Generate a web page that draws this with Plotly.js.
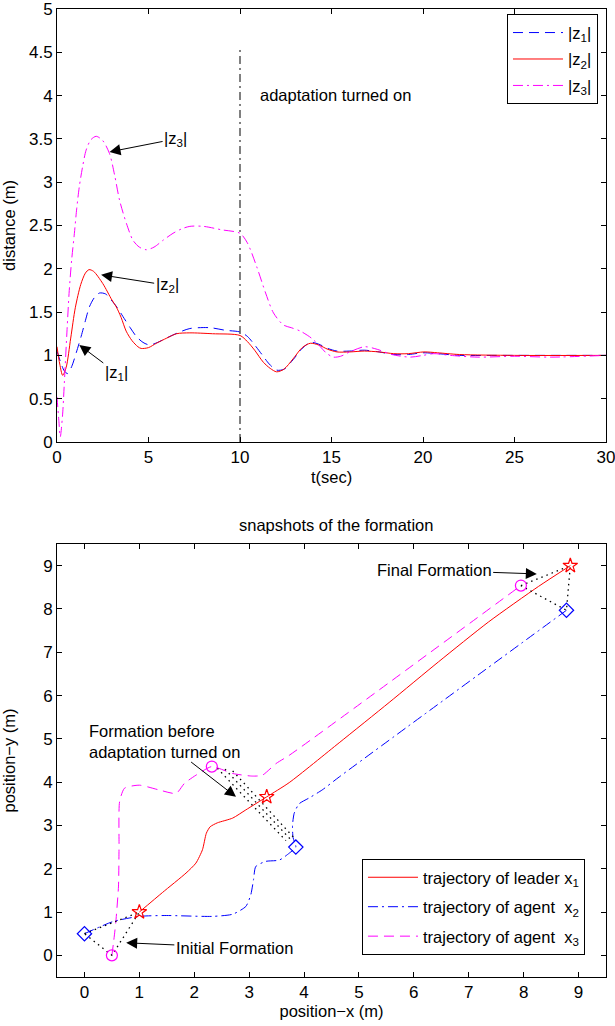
<!DOCTYPE html>
<html>
<head>
<meta charset="utf-8">
<script src="https://cdn.plot.ly/plotly-3.0.1.min.js"></script>
<style>
  html, body { margin: 0; padding: 0; background: #fff; }
  #chart { width: 615px; height: 1026px; }
</style>
</head>
<body>
<div id="chart"></div>
<script>
// ---- distance errors |z_i| over time ----
const z1T = [0, 0.2, 0.4, 0.58, 0.8, 1.05, 1.32, 1.55, 1.77, 2.05, 2.32, 2.65, 2.96, 3.3, 3.6, 4.0, 4.33, 4.7, 5.06, 5.5, 5.98, 6.6, 7.26, 8.35, 9.2, 10.0, 10.4, 10.73, 11.2, 11.6, 12.0, 12.4, 12.9, 13.4, 13.85, 14.3, 14.8, 15.3, 16.0, 16.8, 17.6, 18.4, 19.2, 20.0, 20.8, 22, 24, 27, 30];
const z1V = [1.05, 0.92, 0.82, 0.79, 0.87, 1.03, 1.22, 1.4, 1.56, 1.67, 1.72, 1.71, 1.64, 1.55, 1.45, 1.32, 1.22, 1.15, 1.12, 1.15, 1.20, 1.26, 1.31, 1.32, 1.29, 1.27, 1.22, 1.14, 1.01, 0.9, 0.83, 0.84, 0.95, 1.08, 1.15, 1.13, 1.08, 1.05, 1.05, 1.06, 1.04, 1.01, 1.01, 1.03, 1.02, 1.0, 1.0, 1.0, 1.0];

const z2T = [0, 0.15, 0.31, 0.5, 0.75, 1.0, 1.3, 1.55, 1.75, 2.0, 2.5, 3.0, 3.24, 3.5, 3.78, 4.1, 4.42, 4.6, 5.0, 5.43, 6.0, 6.53, 7.26, 8.5, 10.0, 10.4, 10.8, 11.28, 11.65, 12.0, 12.4, 12.9, 13.4, 13.84, 14.3, 14.8, 15.3, 16.0, 16.8, 17.6, 18.4, 19.2, 20.05, 20.8, 22, 25, 30];
const z2V = [1.1, 0.9, 0.77, 0.86, 1.2, 1.55, 1.82, 1.95, 1.99, 1.97, 1.83, 1.64, 1.56, 1.44, 1.28, 1.17, 1.10, 1.08, 1.09, 1.14, 1.2, 1.25, 1.26, 1.25, 1.23, 1.16, 1.06, 0.92, 0.85, 0.81, 0.84, 0.96, 1.09, 1.14, 1.12, 1.07, 1.04, 1.04, 1.05, 1.04, 1.02, 1.02, 1.04, 1.03, 1.01, 1.0, 1.0];

const z3T = [0, 0.1, 0.18, 0.3, 0.4, 0.55, 0.67, 0.8, 0.95, 1.08, 1.22, 1.4, 1.59, 1.85, 2.14, 2.5, 2.87, 3.15, 3.42, 3.8, 4.15, 4.5, 4.88, 5.3, 5.8, 6.34, 6.8, 7.26, 8.0, 9.0, 10.0, 10.4, 10.92, 11.4, 11.83, 12.38, 12.8, 13.3, 13.9, 14.39, 14.7, 15.1, 15.5, 16.0, 16.8, 17.5, 18.3, 19.3, 20.0, 20.6, 21.5, 23, 25, 27, 30];
const z3V = [0.52, 0.25, 0.06, 0.3, 0.68, 1.3, 1.75, 2.1, 2.41, 2.7, 2.95, 3.18, 3.37, 3.49, 3.53, 3.48, 3.33, 3.08, 2.79, 2.52, 2.33, 2.25, 2.22, 2.25, 2.33, 2.41, 2.46, 2.49, 2.49, 2.45, 2.41, 2.3, 2.02, 1.72, 1.49, 1.35, 1.32, 1.28, 1.2, 1.1, 1.03, 0.98, 0.99, 1.04, 1.1, 1.07, 1.01, 0.98, 1.0, 1.02, 1.0, 0.98, 0.99, 0.98, 1.0];

// moment the adaptation law is switched on
const adaptT = [10, 10];
const adaptY = [0, 4.55];

const zLabels = ['|z<sub>1</sub>|', '|z<sub>2</sub>|', '|z<sub>3</sub>|'];

// ---- planar trajectories ----
const leaderX = [1.0, 1.42, 1.85, 2.03, 2.15, 2.22, 2.29, 2.42, 2.70, 2.94, 3.32, 3.73, 4.64, 5.55, 6.45, 7.36, 8.27, 8.85];
const leaderY = [1.0, 1.45, 1.90, 2.13, 2.44, 2.82, 2.97, 3.06, 3.17, 3.36, 3.66, 3.99, 4.91, 5.84, 6.78, 7.70, 8.52, 9.0];

const agent2X = [0, 0.52, 1.0, 1.49, 2.33, 2.7, 2.94, 3.03, 3.08, 3.12, 3.3, 3.55, 3.73, 3.85, 3.80, 3.79, 3.82, 3.91, 4.1, 4.33, 4.64, 8.78];
const agent2Y = [0.5, 0.78, 0.9, 0.92, 0.9, 0.95, 1.13, 1.4, 1.75, 2.05, 2.17, 2.2, 2.36, 2.5, 2.72, 3.0, 3.28, 3.5, 3.64, 3.82, 4.12, 7.97];

const agent3X = [0.5, 0.53, 0.57, 0.62, 0.63, 0.64, 0.73, 1.0, 1.36, 1.67, 1.82, 2.03, 2.32, 2.7, 3.06, 3.24, 3.49, 3.73, 7.95];
const agent3Y = [0.0, 0.3, 0.75, 1.6, 2.5, 3.55, 3.86, 3.93, 3.82, 3.74, 3.97, 4.16, 4.36, 4.2, 4.14, 4.16, 4.43, 4.62, 8.54];

// agent positions at the three snapshot instants: initial, t = 10 s, final
const leaderSnapX = [1.0, 3.32, 8.85];
const leaderSnapY = [1.0, 3.66, 9.0];
const agent2SnapX = [0.0, 3.85, 8.78];
const agent2SnapY = [0.5, 2.5, 7.97];
const agent3SnapX = [0.5, 2.32, 7.95];
const agent3SnapY = [0.0, 4.36, 8.54];

// inter-agent links shown as dotted segments (null breaks the polyline)
const linkX = [0.0, 1.0, 0.5, 0.0, null,
               7.95, 8.85, 8.78, 7.95, null,
               2.42, 3.67, null, 2.56, 3.76, null, 2.70, 3.85];
const linkY = [0.5, 1.0, 0.0, 0.5, null,
               8.54, 9.0, 7.97, 8.54, null,
               4.32, 2.65, null, 4.30, 2.67, null, 4.26, 2.67];

const trajLabels = ['trajectory of leader x<sub>1</sub>',
                    'trajectory of agent  x<sub>2</sub>',
                    'trajectory of agent  x<sub>3</sub>'];

const BLUE = '#0000ff', RED = '#ff0000', MAG = '#ff00ff';
const FONT = 'Liberation Sans, Arial, Helvetica, sans-serif';
const FS = 16.5;

const traces = [
  { x: z1T, y: z1V, name: zLabels[0], mode: 'lines', xaxis: 'x', yaxis: 'y',
    line: { color: BLUE, width: 1, dash: '10px,6px', shape: 'spline', smoothing: 0.8 },
    legend: 'legend', legendgroup: 'a1' },
  { x: z2T, y: z2V, name: zLabels[1], mode: 'lines', xaxis: 'x', yaxis: 'y',
    line: { color: RED, width: 1, shape: 'spline', smoothing: 0.8 },
    legend: 'legend', legendgroup: 'a2' },
  { x: z3T, y: z3V, name: zLabels[2], mode: 'lines', xaxis: 'x', yaxis: 'y',
    line: { color: MAG, width: 1, dash: '10px,4px,2px,4px', shape: 'spline', smoothing: 0.8 },
    legend: 'legend', legendgroup: 'a3' },
  { x: adaptT, y: adaptY, mode: 'lines', xaxis: 'x', yaxis: 'y', showlegend: false,
    line: { color: '#000', width: 1, dash: '8px,4px,2px,4px' }, hoverinfo: 'skip' },

  { x: leaderX, y: leaderY, name: trajLabels[0], mode: 'lines', xaxis: 'x2', yaxis: 'y2',
    line: { color: RED, width: 1, shape: 'spline', smoothing: 0.6 },
    legend: 'legend2', legendgroup: 'b1' },
  { x: agent2X, y: agent2Y, name: trajLabels[1], mode: 'lines', xaxis: 'x2', yaxis: 'y2',
    line: { color: BLUE, width: 1, dash: '10px,4px,2px,4px', shape: 'spline', smoothing: 0.6 },
    legend: 'legend2', legendgroup: 'b2' },
  { x: agent3X, y: agent3Y, name: trajLabels[2], mode: 'lines', xaxis: 'x2', yaxis: 'y2',
    line: { color: MAG, width: 1, dash: '10px,6px', shape: 'spline', smoothing: 0.6 },
    legend: 'legend2', legendgroup: 'b3' },
  { x: linkX, y: linkY, mode: 'lines', xaxis: 'x2', yaxis: 'y2', showlegend: false,
    line: { color: '#000', width: 1.3, dash: '1.5px,4px' }, hoverinfo: 'skip' },
  { x: leaderSnapX, y: leaderSnapY, mode: 'markers', xaxis: 'x2', yaxis: 'y2', showlegend: false,
    marker: { symbol: 'star-open', size: 11, color: RED, line: { width: 1.2, color: RED } } },
  { x: agent2SnapX, y: agent2SnapY, mode: 'markers', xaxis: 'x2', yaxis: 'y2', showlegend: false,
    marker: { symbol: 'diamond-open', size: 11, color: BLUE, line: { width: 1.2, color: BLUE } } },
  { x: agent3SnapX, y: agent3SnapY, mode: 'markers', xaxis: 'x2', yaxis: 'y2', showlegend: false,
    marker: { symbol: 'circle-open', size: 11, color: MAG, line: { width: 1.2, color: MAG } } }
];

const axisCommon = {
  showgrid: false, zeroline: false, showline: true, linecolor: '#000', linewidth: 1,
  mirror: 'ticks', ticks: 'inside', ticklen: 5, tickcolor: '#000',
  ticklabeloverflow: 'allow',
  tickfont: { family: FONT, size: 17, color: '#000' }
};

// text placed at the arrow's tail, arrow pointing at (hx, hy)
function callout(xr, yr, hx, hy, tx, ty, text) {
  return { xref: xr, yref: yr, axref: xr, ayref: yr, x: hx, y: hy, ax: tx, ay: ty,
           text: text, showarrow: true, arrowhead: 2, arrowsize: 2.2, arrowwidth: 1,
           arrowcolor: '#000', align: 'left',
           font: { family: FONT, size: FS, color: '#000' } };
}
function label(xr, yr, x, y, text, xanchor) {
  return { xref: xr, yref: yr, x: x, y: y, text: text, showarrow: false,
           xanchor: xanchor || 'center', yanchor: 'middle', align: 'left',
           font: { family: FONT, size: FS, color: '#000' } };
}

const layout = {
  width: 615, height: 1026,
  margin: { l: 57, r: 9, t: 9, b: 49 },
  paper_bgcolor: '#fff', plot_bgcolor: '#fff',
  font: { family: FONT, size: FS, color: '#000' },
  xaxis: Object.assign({}, axisCommon, { domain: [0, 1], range: [0, 30], dtick: 5, anchor: 'y',
    title: { text: 't(sec)', font: { family: FONT, size: FS }, standoff: 5 } }),
  yaxis: Object.assign({}, axisCommon, { domain: [0.5527, 1], range: [0, 5], dtick: 0.5, anchor: 'x',
    title: { text: 'distance (m)', font: { family: FONT, size: FS } } }),
  xaxis2: Object.assign({}, axisCommon, { domain: [0, 1], range: [-0.5, 9.5], dtick: 1, anchor: 'y2',
    title: { text: 'position\u2212x (m)', font: { family: FONT, size: FS }, standoff: 4 } }),
  yaxis2: Object.assign({}, axisCommon, { domain: [0, 0.4473], range: [-0.5, 9.5], dtick: 1, anchor: 'x2',
    title: { text: 'position\u2212y (m)', font: { family: FONT, size: FS } } }),
  legend: {
    x: 0.9854, y: 0.9945, xanchor: 'right', yanchor: 'top',
    bgcolor: '#fff', bordercolor: '#000', borderwidth: 1,
    font: { family: FONT, size: FS, color: '#000' }, itemwidth: 50, tracegroupgap: 2
  },
  legend2: {
    x: 0.9617, y: 0.0227, xanchor: 'right', yanchor: 'bottom',
    bgcolor: '#fff', bordercolor: '#000', borderwidth: 1,
    font: { family: FONT, size: FS, color: '#000' }, itemwidth: 50, tracegroupgap: 5
  },
  showlegend: true,
  annotations: [
    // top panel
    label('x', 'y', 11.0, 4.01, 'adaptation turned on', 'left'),
    callout('x', 'y', 2.87, 3.35, 6.48, 3.50, zLabels[2]),
    callout('x', 'y', 2.41, 1.93, 6.02, 1.81, zLabels[1]),
    callout('x', 'y', 1.22, 1.12, 3.24, 0.80, zLabels[0]),
    // bottom panel
    { xref: 'paper', yref: 'paper', x: 0.508, y: 0.467, text: 'snapshots of the formation',
      showarrow: false, xanchor: 'center', yanchor: 'middle',
      font: { family: FONT, size: FS, color: '#000' } },
    callout('x2', 'y2', 0.76, 0.29, 2.73, 0.18, 'Initial Formation'),
    callout('x2', 'y2', 2.76, 3.66, 1.45, 4.95, 'Formation before<br>adaptation turned on'),
    callout('x2', 'y2', 8.24, 8.81, 6.37, 8.89, 'Final Formation')
  ]
};

Plotly.newPlot('chart', traces, layout, { staticPlot: true, displayModeBar: false });
</script>
</body>
</html>
